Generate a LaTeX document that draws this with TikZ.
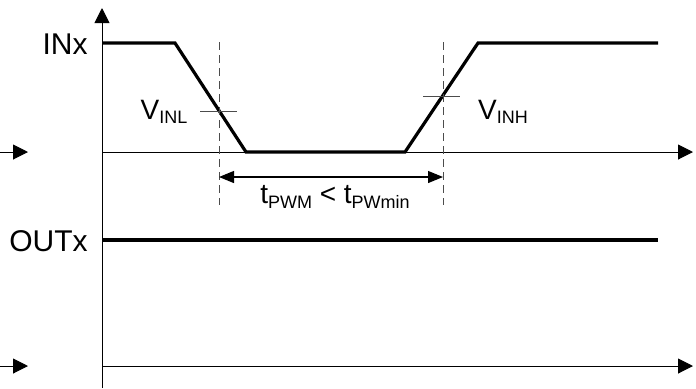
\documentclass[tikz,border=0pt]{standalone}
\usepackage{fontspec}
\setmainfont{Liberation Sans}
\usetikzlibrary{arrows.meta}

\newcommand{\lowtext}[1]{\raisebox{-2.2pt}{\fontsize{9}{9}\selectfont #1}}

\begin{document}
\begin{tikzpicture}[x=0.5pt,y=-0.5pt,
	axis/.style={line width=0.5pt,-{Triangle[length=7.5pt,width=7.5pt]}},
	signal/.style={line width=1.6pt,line join=miter},
	guide/.style={line width=0.5pt,black!70,dash pattern=on 4pt off 2.5pt},
	level/.style={line width=0.5pt,black!70},
	span/.style={line width=0.6pt,{Triangle[length=7.5pt,width=6pt]}-{Triangle[length=7.5pt,width=6pt]}},
	label/.style={inner sep=0pt,font=\fontsize{15}{15}\selectfont},
	small/.style={inner sep=0pt,font=\fontsize{14}{14}\selectfont}]
	\useasboundingbox (0,0) rectangle (696,388);
	\newcommand{\HIGH}{43}
	\newcommand{\LOW}{152}
	\newcommand{\BASE}{366}
	\coordinate(O) at (102,388);
	\coordinate(Top) at (102,8);
	\draw [axis] (O) -- (Top);
	\coordinate(InStart) at (102,\LOW);
	\coordinate(InEnd) at (693,\LOW);
	\draw [axis] (InStart) -- (InEnd);
	\coordinate(OutStart) at (102,\BASE);
	\coordinate(OutEnd) at (693,\BASE);
	\draw [axis] (OutStart) -- (OutEnd);
	\coordinate(InMark0) at (0,\LOW);
	\coordinate(InMark1) at (28,\LOW);
	\draw [axis] (InMark0) -- (InMark1);
	\coordinate(OutMark0) at (0,\BASE);
	\coordinate(OutMark1) at (28,\BASE);
	\draw [axis] (OutMark0) -- (OutMark1);
	\coordinate(P0) at (102,\HIGH);
	\coordinate(P1) at (175,\HIGH);
	\coordinate(P2) at (246,\LOW);
	\coordinate(P3) at (405,\LOW);
	\coordinate(P4) at (478,\HIGH);
	\coordinate(P5) at (658,\HIGH);
	\draw [signal] (P0) -- (P1) -- (P2) -- (P3) -- (P4) -- (P5);
	\coordinate(Q0) at (102,240);
	\coordinate(Q1) at (658,240);
	\draw [signal] (Q0) -- (Q1);
	\coordinate(FallTop) at (219,42);
	\coordinate(FallBot) at (219,205);
	\coordinate(RiseTop) at (443,42);
	\coordinate(RiseBot) at (443,205);
	\draw [guide] (FallTop) -- (FallBot);
	\draw [guide] (RiseTop) -- (RiseBot);
	\coordinate(VlA) at (200,111);
	\coordinate(VlB) at (237,111);
	\draw [level] (VlA) -- (VlB);
	\coordinate(VhA) at (423,96);
	\coordinate(VhB) at (460,96);
	\draw [level] (VhA) -- (VhB);
	\coordinate(SpanL) at (219,177);
	\coordinate(SpanR) at (443,177);
	\draw [span] (SpanL) -- (SpanR);
	\node[label, anchor=east](INx) at (88,44){INx};
	\node[label, anchor=east](OUTx) at (88,241){OUTx};
	\node[small](VINL) at (164,112){V\lowtext{INL}};
	\node[small](VINH) at (503,112){V\lowtext{INH}};
	\node[small](TPW) at (335,197){t\lowtext{PWM} < t\lowtext{PWmin}};
\end{tikzpicture}
\end{document}
